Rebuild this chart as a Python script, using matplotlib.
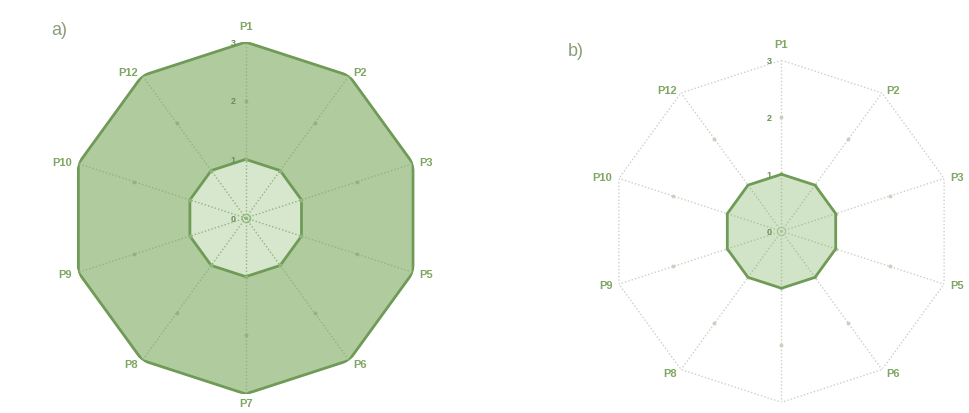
import matplotlib
matplotlib.use('Agg')
import matplotlib.pyplot as plt
import numpy as np

# data
labels = ['P1', 'P2', 'P3', 'P5', 'P6', 'P7', 'P8', 'P9', 'P10', 'P12']
outer_a = [3, 3, 3, 3, 3, 3, 3, 3, 3, 3]
inner_a = [1, 1, 1, 1, 1, 1, 1, 1, 1, 1]
inner_b = [1, 1, 1, 1, 1, 1, 1, 1, 1, 1]
r_ticks = [0, 1, 2, 3]

# colors
edge_c = '#6f9b57'
fill_outer = '#b0cc9f'
fill_inner = '#d7e7cd'
fill_b = '#d2e4c7'
label_c = '#7ea763'
grid_a = '#8fb57c'
grid_b = '#c9d2c2'
grid_b_in = '#a9c49a'

plt.rcParams['font.family'] = ['Liberation Sans', 'DejaVu Sans']

n = len(labels)
theta = np.linspace(0, 2 * np.pi, n, endpoint=False)
theta_c = np.append(theta, theta[0])


def closed(v):
    return np.append(v, v[0])


def setup(ax):
    ax.set_theta_zero_location('N')
    ax.set_theta_direction(-1)
    ax.set_ylim(0, 3)
    ax.grid(False)
    ax.spines['polar'].set_visible(False)
    ax.set_yticks([])
    ax.set_xticks([])
    ax.set_facecolor('none')


def axis_labels(ax, skip=()):
    # labels just outside the outer ring
    for t, lab in zip(theta, labels):
        if lab in skip:
            continue
        s, c = np.sin(t), np.cos(t)
        ha = 'left' if s > 0.3 else ('right' if s < -0.3 else 'center')
        if abs(s) < 0.3:
            va = 'bottom' if c > 0 else 'top'
            off = (0, 8 if c > 0 else -3)
        else:
            va = 'center'
            off = (s * 5, c * 3)
        ax.annotate(lab, xy=(t, 3), xytext=off, textcoords='offset points',
                    ha=ha, va=va, fontsize=8, fontweight='bold', color=label_c,
                    annotation_clip=False, zorder=10)


def grid(ax, c, ring_c, z):
    # spokes
    for t in theta:
        ax.plot([t, t], [0, 3], color=c, lw=1.0, ls=(0, (1, 1.5)), zorder=z)
    # outer ring
    ax.plot(theta_c, closed([3] * n), color=ring_c, lw=1.0, ls=(0, (1, 1.5)), zorder=z)
    # tick marks on spokes
    for r in [1, 2]:
        ax.plot(theta, [r] * n, ls='none', marker='o', ms=1.8, color=c, zorder=z)
    # center
    ax.plot([0], [0], marker='o', ms=6, mfc='none', mec=c, mew=0.8, zorder=z)
    ax.plot([0], [0], marker='o', ms=1.5, color=c, zorder=z)
    # radial labels
    for r in r_ticks:
        ax.annotate(str(r), xy=(0, r), xytext=(-7, 0), textcoords='offset points',
                    ha='right', va='center', fontsize=6.5, fontweight='bold',
                    color='#6b8f58', zorder=z + 1)


fig = plt.figure(figsize=(9.69, 4.14), dpi=100)
fig.set_facecolor('white')

# a)
ax1 = fig.add_axes([0.0719, 0.046, 0.3633, 0.850], projection='polar')
setup(ax1)
ax1.fill(theta_c, closed(outer_a), color=fill_outer, zorder=1)
ax1.plot(theta_c, closed(outer_a), color=edge_c, lw=2.0, zorder=2)
ax1.fill(theta_c, closed(inner_a), color=fill_inner, zorder=3)
ax1.plot(theta_c, closed(inner_a), color=edge_c, lw=2.0, zorder=4)
grid(ax1, grid_a, edge_c, 5)
axis_labels(ax1)
fig.text(0.053, 0.915, 'a)', fontsize=13, color='#8a9e7c')

# b)
ax2 = fig.add_axes([0.630, 0.026, 0.353, 0.826], projection='polar')
setup(ax2)
grid(ax2, grid_b, grid_b, 1)
ax2.fill(theta_c, closed(inner_b), color=fill_b, zorder=3)
# spokes visible through the filled area
for t in theta:
    ax2.plot([t, t], [0, 1], color=grid_b_in, lw=1.0, ls=(0, (1, 1.5)), zorder=4)
ax2.plot([0], [0], marker='o', ms=6, mfc='none', mec=grid_b_in, mew=0.8, zorder=4)
ax2.annotate('0', xy=(0, 0), xytext=(-7, 0), textcoords='offset points',
             ha='right', va='center', fontsize=6.5, fontweight='bold', color='#6b8f58', zorder=6)
ax2.plot(theta_c, closed(inner_b), color=edge_c, lw=2.0, zorder=5)
axis_labels(ax2, skip=('P7',))
fig.text(0.586, 0.865, 'b)', fontsize=13, color='#8a9e7c')

fig.savefig('out.png', dpi=100)
